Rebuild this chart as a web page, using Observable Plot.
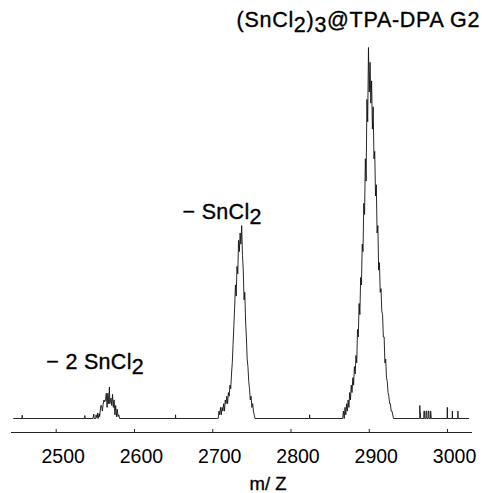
<!DOCTYPE html>
<html><head><meta charset="utf-8">
<script src="https://cdn.jsdelivr.net/npm/d3@7"></script>
<script src="https://cdn.jsdelivr.net/npm/@observablehq/plot@0.6"></script>
<style>html,body{margin:0;padding:0;background:#fff}</style>
</head><body><div id="chart"></div>
<script>
// m/z values of the spectrum trace
const mz = [
  2445.6,
  2456.4, 2456.6, 2456.8,
  2536.4, 2536.6, 2536.8,
  2547, 2548, 2548.5, 2550.5, 2551, 2551.5, 2552.5, 2553, 2553.5, 2555, 2555.5, 2557, 2558, 2559, 2560,
  2561, 2562, 2563, 2564, 2565, 2566, 2567, 2568, 2568.5, 2570, 2571, 2572, 2573, 2574, 2575, 2576,
  2577, 2578, 2579, 2580, 2581,
  2652.3, 2652.5, 2652.7,
  2706, 2707, 2708, 2709, 2710, 2711, 2712, 2713, 2714, 2715, 2716, 2717, 2718, 2719, 2720, 2721,
  2722, 2723, 2724, 2725, 2726, 2727, 2728, 2729, 2730, 2731, 2732, 2733, 2734, 2735, 2736, 2737,
  2738, 2739, 2740, 2741, 2742, 2743, 2744, 2745, 2746, 2747, 2748, 2749, 2750, 2751, 2752, 2753, 2754,
  2823.6, 2823.8, 2824,
  2866, 2867, 2868, 2869, 2870, 2871, 2872, 2873, 2874, 2875, 2876, 2877, 2878, 2879, 2880, 2881,
  2882, 2883, 2884, 2885, 2886, 2887, 2888, 2889, 2890, 2891, 2892, 2893, 2894, 2895, 2896, 2897,
  2898, 2899, 2900, 2901, 2902, 2903, 2904, 2905, 2906, 2907, 2908, 2909, 2910, 2911, 2912, 2913,
  2914, 2915, 2916, 2917, 2918, 2919, 2920, 2921, 2922, 2923, 2924, 2925, 2926, 2927, 2928, 2929,
  2930, 2931,
  2964.4, 2964.6, 2964.9, 2965.4, 2965.6,
  2969.6, 2969.8, 2970.6, 2970.8, 2972.4, 2972.6, 2973.4, 2973.6, 2975.2, 2975.4, 2976.2, 2976.4,
  2978.2, 2978.4, 2979.2,
  2999.5, 2999.7, 2999.9,
  3006, 3006.2, 3006.4,
  3013.1, 3013.3, 3013.5,
  3027
];
// relative intensity (%) at each m/z above
const intensity = [
  0,
  0, 0.9, 0,
  0, 0.8, 0,
  0, 1.2, 0, 0, 1, 0.3, 0.3, 1.5, 0, 1.3, 0.5, 3.5, 3.5, 2, 3.8,
  5, 4.5, 5, 6.8, 3, 6.8, 4, 8.5, 4, 5.5, 3.5, 6.5, 3, 5, 1, 3.5,
  0.5, 2.5, 0.5, 1, 0,
  0, 1, 0,
  0, 0, 2, 1, 3, 1, 3, 2, 4, 2, 5, 4, 6, 4, 7, 6,
  9, 8, 12, 15, 20, 25, 30, 36, 33, 41, 39, 48, 45, 50, 47, 52,
  44, 40, 32, 34, 26, 22, 16, 14, 10, 8, 5, 6, 3, 4, 2, 1, 0,
  0, 1, 0,
  0, 2, 0, 3, 1, 4, 2, 5, 3, 7, 5, 9, 7, 11, 9, 14,
  12, 17, 15, 24, 22, 31, 28, 38, 36, 47, 45, 58, 55, 70, 64, 86,
  80, 100, 88, 96, 85, 91, 78, 84, 70, 72, 60, 63, 50, 52, 40, 42,
  34, 35, 29, 28, 22, 22, 15, 16, 11, 10, 7, 6, 4, 4, 2, 2,
  1, 0,
  0, 3.5, 1.5, 1.5, 0,
  0, 2, 2, 0, 0, 2, 2, 0, 0, 2, 2, 0,
  0, 2, 0,
  0, 3, 0,
  0, 2, 0,
  0, 2, 0,
  0
];
const xTicks = [2500, 2600, 2700, 2800, 2900, 3000];
const xLabel = "m/ Z";
// peak annotations ("_n" marks a subscript), anchored in data units
const labelText = ["(SnCl_2)_3@TPA-DPA G2", "\u2212 SnCl_2", "\u2212 2 SnCl_2"];
const labelMz = [2730.5, 2661.5, 2487.3];
const labelIntensity = [105.5, 53.8, 13.4];

const spectrum = mz.map((m, i) => ({mz: m, v: intensity[i]}));
const labels = labelText.map((t, i) => ({t, x: labelMz[i], y: labelIntensity[i]}));
const font = '"Liberation Sans", Arial, Helvetica, sans-serif';
const yMin = -3.77;

const chart = Plot.plot({
  width: 482, height: 493,
  marginLeft: 11, marginRight: 10, marginTop: 47, marginBottom: 61,
  style: {fontFamily: font, background: "#fff", color: "#000", overflow: "visible"},
  x: {domain: [2442.9, 3031.9]},
  y: {domain: [yMin, 100], axis: null},
  marks: [
    Plot.ruleY([yMin], {stroke: "#222", strokeWidth: 1}),
    Plot.ruleX(xTicks, {x: d => d, y1: -2.96, y2: -4.04, stroke: "#222", strokeWidth: 1}),
    Plot.axisX(xTicks, {tickSize: 0, tickPadding: 16.5, dx: 7, fontSize: 19.5, tickFormat: d => String(d), label: null,
      stroke: "#000", strokeWidth: 0.35, fill: "#000"}),
    Plot.line(spectrum, {x: "mz", y: "v", stroke: "#111", strokeWidth: 0.9}),
    Plot.text(labels, {x: "x", y: "y", text: "t", textAnchor: "start", lineAnchor: "bottom", fontSize: 21.5,
      fill: "#000", stroke: "#000", strokeWidth: 0.35}),
    Plot.text([xLabel], {text: d => d, frameAnchor: "bottom", dx: 26, dy: 57, lineAnchor: "bottom", fontSize: 18.5,
      fill: "#000", stroke: "#000", strokeWidth: 0.35})
  ]
});

// render "_n" as lowered, same-size subscripts; widen the long title a little
chart.querySelectorAll("text").forEach(t => {
  const s = t.textContent;
  if (!s.includes("_")) return;
  if (s.startsWith("(")) t.setAttribute("letter-spacing", "0.7");
  else t.setAttribute("letter-spacing", "0.3");
  t.textContent = "";
  let shifted = false;
  for (const p of s.split(/(_\d)/)) {
    if (!p) continue;
    const ts = document.createElementNS("http://www.w3.org/2000/svg", "tspan");
    if (p[0] === "_") {
      ts.textContent = p.slice(1);
      if (!shifted) ts.setAttribute("dy", "5");
      shifted = true;
    } else {
      ts.textContent = p;
      if (shifted) ts.setAttribute("dy", "-5");
      shifted = false;
    }
    t.appendChild(ts);
  }
});
document.getElementById("chart").appendChild(chart);
</script>
</body></html>
